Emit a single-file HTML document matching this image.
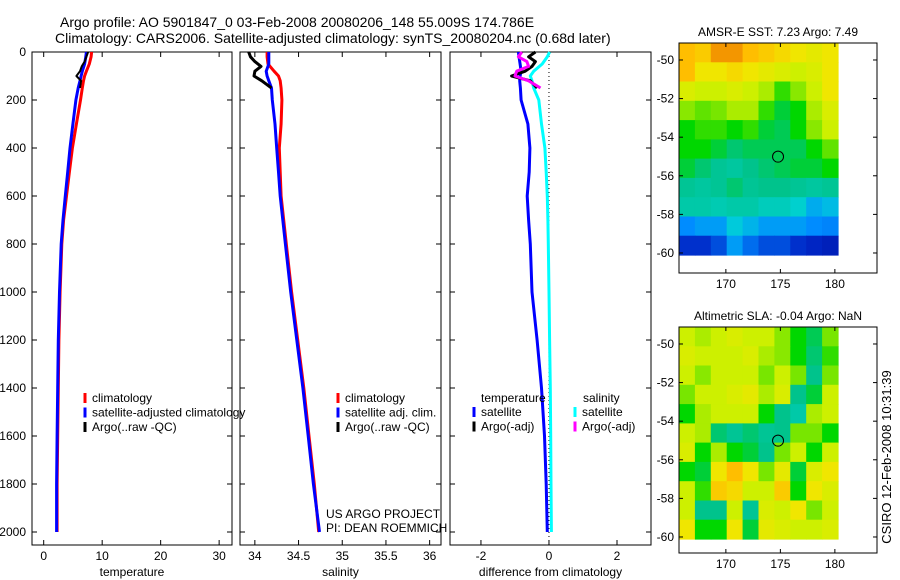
<!DOCTYPE html>
<html><head><meta charset="utf-8"><style>
html,body{margin:0;padding:0;background:#fff}
svg{display:block;font-family:"Liberation Sans",sans-serif}
</style></head><body>
<svg id="fig" width="900" height="580" viewBox="0 0 900 580" xmlns="http://www.w3.org/2000/svg">
<text x="60" y="27" font-size="14">Argo profile: AO 5901847_0 03-Feb-2008 20080206_148 55.009S 174.786E</text>
<text x="55" y="43" font-size="14">Climatology: CARS2006. Satellite-adjusted climatology: synTS_20080204.nc (0.68d later)</text>
<g id="maps"></g>
<g id="profiles"></g>
<text transform="translate(891,457) rotate(-90)" text-anchor="middle" font-size="13">CSIRO 12-Feb-2008 10:31:39</text>
</svg>
<script>
// ---- profile data ----
const depths=[0,20,50,80,100,120,150,200,300,400,500,600,700,800,1000,1200,1400,1600,1800,2000];
const tempClim=[8.2,8.1,7.8,7.3,7.0,6.8,6.6,6.3,5.6,4.9,4.4,3.9,3.4,3.1,2.8,2.6,2.5,2.4,2.3,2.3];
const tempSat=[7.3,7.2,7.0,6.6,6.4,6.2,5.9,5.5,5.0,4.5,4.1,3.7,3.3,3.0,2.7,2.5,2.4,2.3,2.2,2.2];
const argoDepths=[0,20,40,60,80,100,120,150];
const tempArgo=[7.6,7.3,7.0,6.5,6.2,5.6,6.4,6.2];
const salClim=[34.14,34.14,34.15,34.22,34.27,34.29,34.30,34.31,34.30,34.28,34.29,34.30,34.33,34.36,34.42,34.49,34.56,34.62,34.68,34.73];
const salSat=[34.16,34.16,34.16,34.13,34.14,34.16,34.19,34.2,34.23,34.25,34.27,34.29,34.32,34.35,34.41,34.48,34.55,34.61,34.67,34.74];
const salArgo=[33.93,33.95,34.0,34.07,34.0,33.99,34.08,34.19];
const tDiffSat=[-0.9,-0.88,-0.85,-0.82,-0.85,-0.86,-0.84,-0.82,-0.62,-0.56,-0.58,-0.64,-0.6,-0.55,-0.5,-0.35,-0.22,-0.13,-0.08,-0.05];
const sDiffSat=[0.02,-0.05,-0.2,-0.45,-0.55,-0.5,-0.45,-0.3,-0.22,-0.12,-0.08,-0.05,-0.03,-0.02,0.0,0.02,0.04,0.05,0.06,0.07];
const tDiffArgo=[-0.4,-0.6,-0.4,-0.5,-0.7,-1.1,-0.55,-0.35];
const sDiffArgo=[-0.8,-0.9,-0.65,-0.6,-0.95,-1.0,-0.6,-0.25];
const tempTicks=[0,10,20,30];
const salTicks=[34,34.5,35,35.5,36];
const diffTicks=[-2,0,2];
const depthTicks=[0,200,400,600,800,1000,1200,1400,1600,1800,2000];
// ---- map data (colormap values 0..1), rows north->south ----
const mapLonTicks=[170,175,180];
const mapLatTicks=[-50,-52,-54,-56,-58,-60];
const sstGrid=[
[0.72,0.7,0.76,0.76,0.72,0.7,0.68,0.66,0.64,0.66],
[0.72,0.66,0.66,0.68,0.66,0.64,0.62,0.6,0.62,0.66],
[0.62,0.6,0.6,0.62,0.6,0.58,0.52,0.56,0.6,0.66],
[0.56,0.54,0.55,0.58,0.58,0.52,0.48,0.5,0.58,0.62],
[0.5,0.52,0.52,0.5,0.52,0.48,0.47,0.5,0.56,0.6],
[0.5,0.5,0.48,0.46,0.47,0.47,0.47,0.47,0.5,0.54],
[0.48,0.46,0.44,0.43,0.45,0.46,0.47,0.48,0.48,0.5],
[0.44,0.43,0.44,0.46,0.44,0.45,0.45,0.44,0.43,0.44],
[0.42,0.42,0.41,0.42,0.42,0.4,0.4,0.38,0.32,0.34],
[0.28,0.3,0.3,0.36,0.33,0.3,0.3,0.3,0.28,0.27],
[0.16,0.16,0.2,0.3,0.24,0.2,0.2,0.16,0.14,0.12]];
const slaGrid=[
[0.6,0.58,0.6,0.62,0.6,0.6,0.56,0.5,0.47,0.55],
[0.62,0.6,0.6,0.6,0.62,0.58,0.56,0.5,0.46,0.52],
[0.6,0.56,0.6,0.6,0.6,0.55,0.6,0.55,0.45,0.55],
[0.55,0.6,0.6,0.62,0.64,0.58,0.62,0.45,0.48,0.6],
[0.5,0.58,0.6,0.6,0.6,0.5,0.45,0.42,0.58,0.6],
[0.6,0.58,0.46,0.44,0.46,0.44,0.45,0.55,0.55,0.5],
[0.62,0.5,0.58,0.5,0.48,0.45,0.55,0.6,0.5,0.6],
[0.5,0.48,0.66,0.72,0.66,0.55,0.64,0.48,0.62,0.66],
[0.6,0.52,0.7,0.68,0.6,0.6,0.7,0.5,0.66,0.62],
[0.6,0.45,0.45,0.6,0.44,0.62,0.6,0.66,0.55,0.6],
[0.66,0.5,0.5,0.66,0.48,0.64,0.62,0.6,0.6,0.62]];
const floatLon=174.786, floatLat=-55.009;

const NS='http://www.w3.org/2000/svg';
function mk(tag,attrs,parent){const e=document.createElementNS(NS,tag);for(const k in attrs)e.setAttribute(k,attrs[k]);parent.appendChild(e);return e;}
const cmapStops=[[0,[0,0,130]],[0.15,[0,40,200]],[0.28,[0,140,255]],[0.37,[0,210,215]],[0.45,[0,195,140]],[0.5,[0,215,0]],[0.55,[120,230,0]],[0.6,[205,240,0]],[0.66,[240,230,0]],[0.72,[255,190,0]],[0.8,[230,110,0]],[1,[160,0,0]]];
function cmap(v){v=Math.max(0,Math.min(1,v));for(let i=1;i<cmapStops.length;i++){const [a,ca]=cmapStops[i-1],[b,cb]=cmapStops[i];if(v<=b){const t=(v-a)/(b-a);return `rgb(${ca.map((c,k)=>Math.round(c+(cb[k]-c)*t)).join(',')})`;}}return 'rgb(160,0,0)';}

// ---- profiles ----
const P=document.getElementById('profiles');
const yTop=52, yPx=0.24, axBottom=545;
const yS=d=>yTop+d*yPx;
const panels=[
 {name:'temperature',x0:32,x1:232,lo:-2,hi:32.2,ticks:tempTicks,label:'temperature'},
 {name:'salinity',x0:240,x1:441,lo:33.83,hi:36.13,ticks:salTicks,label:'salinity'},
 {name:'difference',x0:450,x1:651,lo:-2.91,hi:3.0,ticks:diffTicks,label:'difference from climatology'}];
panels.forEach((p,i)=>{
 p.xS=v=>p.x0+(v-p.lo)/(p.hi-p.lo)*(p.x1-p.x0);
 const g=mk('g',{},P);
 
 
 const r=mk('rect',{x:p.x0,y:yTop,width:p.x1-p.x0,height:axBottom-yTop,fill:'none',stroke:'#000','stroke-width':1},g);
 
 
 p.ticks.forEach(t=>{const x=p.xS(t);
  mk('line',{x1:x,x2:x,y1:axBottom,y2:axBottom-5,stroke:'#000'},g);
  mk('line',{x1:x,x2:x,y1:yTop,y2:yTop+5,stroke:'#000'},g);
  const tx=mk('text',{x:x,y:axBottom+15,'text-anchor':'middle','font-size':12},g);tx.textContent=t;
  
  });
 depthTicks.forEach(d=>{const y=yS(d);
  mk('line',{x1:p.x0,x2:p.x0+5,y1:y,y2:y,stroke:'#000'},g);
  mk('line',{x1:p.x1,x2:p.x1-5,y1:y,y2:y,stroke:'#000'},g);
  if(i===0){const tx=mk('text',{x:p.x0-6,y:y+4,'text-anchor':'end','font-size':12},g);tx.textContent=d;
   
   }});
 const xl=mk('text',{x:(p.x0+p.x1)/2,y:axBottom+31,'text-anchor':'middle','font-size':12},g);xl.textContent=p.label;
 
 
});
function line(p,vals,ds,col,name,w){const pts=vals.map((v,k)=>p.xS(v).toFixed(1)+','+yS(ds[k]).toFixed(1)).join(' ');
 const l=mk('polyline',{points:pts,fill:'none',stroke:col,'stroke-width':w||3,'stroke-linejoin':'round'},P);
 
 }
const [p1,p2,p3]=panels;
line(p1,tempClim,depths,'#f00','temp-climatology-line');
line(p1,tempSat,depths,'#00f','temp-satellite-line');
line(p1,tempArgo,argoDepths,'#000','temp-argo-line',2);
line(p2,salClim,depths,'#f00','sal-climatology-line');
line(p2,salSat,depths,'#00f','sal-satellite-line');
line(p2,salArgo,argoDepths,'#000','sal-argo-line',3);
const zl=mk('line',{x1:p3.xS(0),x2:p3.xS(0),y1:yTop,y2:axBottom,stroke:'#000','stroke-dasharray':'1,3'},P);


line(p3,sDiffSat,depths,'#0ff','sal-diff-satellite-line');
line(p3,tDiffSat,depths,'#00f','temp-diff-satellite-line');
line(p3,tDiffArgo,argoDepths,'#000','temp-diff-argo-line',3);
line(p3,sDiffArgo,argoDepths,'#f0f','sal-diff-argo-line',3);

function legend(x,y,items,name){items.forEach((it,k)=>{const yy=y+k*14.5;
 if(it[1]){const l=mk('line',{x1:x,x2:x,y1:yy-9,y2:yy+1,stroke:it[1],'stroke-width':3},P);
  
  }
 const t=mk('text',{x:x+(it[1]?7:0),y:yy,'font-size':12},P);t.textContent=it[0];
 
 });}
legend(85,402,[['climatology','#f00'],['satellite-adjusted climatology','#00f'],['Argo(..raw -QC)','#000']],'temp-legend');
legend(338,402,[['climatology','#f00'],['satellite adj. clim.','#00f'],['Argo(..raw -QC)','#000']],'sal-legend');
legend(481,402,[['temperature',null]],'diff-legend');
legend(474,416,[['satellite','#00f'],['Argo(-adj)','#000']],'diff-temp-legend');
legend(583,402,[['salinity',null]],'diff-legend');
legend(575,416,[['satellite','#0ff'],['Argo(-adj)','#f0f']],'diff-sal-legend');
const c1=mk('text',{x:326,y:518,'font-size':12},P);c1.textContent='US ARGO PROJECT';


const c2=mk('text',{x:326,y:532,'font-size':12},P);c2.textContent='PI: DEAN ROEMMICH';



// ---- maps ----
const M=document.getElementById('maps');
function drawMap(grid,boxTop,boxBot,latTop,pxPerLat,imgTop,imgBot,title,name){
 const x0=679,x1=877,lonLeft=165.7,pxPerLon=10.9;
 const xS=lo=>x0+(lo-lonLeft)*pxPerLon;
 const yS2=la=>boxTop+(latTop-la)*pxPerLat;
 const g=mk('g',{},M);
 
 
 const rows=grid.length,cols=grid[0].length,imgRight=838;
 const cw=(imgRight-x0)/cols,ch=(imgBot-imgTop)/rows;
 grid.forEach((row,r)=>row.forEach((v,c)=>{
  const cell=mk('rect',{x:(x0+c*cw).toFixed(1),y:(imgTop+r*ch).toFixed(1),width:(cw+0.6).toFixed(1),height:(ch+0.6).toFixed(1),fill:cmap(v)},g);
  
  }));
 const b=mk('rect',{x:x0,y:boxTop,width:x1-x0,height:boxBot-boxTop,fill:'none',stroke:'#000'},g);
 
 
 mapLatTicks.forEach(la=>{const y=yS2(la);
  mk('line',{x1:x0,x2:x0+4,y1:y,y2:y,stroke:'#000'},g);
  mk('line',{x1:x1,x2:x1-4,y1:y,y2:y,stroke:'#000'},g);
  const t=mk('text',{x:x0-5,y:y+4,'text-anchor':'end','font-size':12},g);t.textContent=la;
  
  });
 mapLonTicks.forEach(lo=>{const x=xS(lo);
  mk('line',{x1:x,x2:x,y1:boxBot,y2:boxBot-4,stroke:'#000'},g);
  mk('line',{x1:x,x2:x,y1:boxTop,y2:boxTop+4,stroke:'#000'},g);
  const t=mk('text',{x:x,y:boxBot+15,'text-anchor':'middle','font-size':12},g);t.textContent=lo;
  
  });
 const c=mk('circle',{cx:xS(floatLon),cy:yS2(floatLat),r:5.5,fill:'none',stroke:'#000','stroke-width':1},g);
 
 
 const t=mk('text',{x:(x0+x1)/2,y:boxTop-7,'text-anchor':'middle','font-size':12},g);t.textContent=title;
 
 
}
drawMap(sstGrid,43,273,-49.12,19.3,43,255,'AMSR-E SST: 7.23 Argo: 7.49','sst');
drawMap(slaGrid,327,553,-49.12,19.3,327,539,'Altimetric SLA: -0.04 Argo: NaN','sla');
</script>
</body></html>
